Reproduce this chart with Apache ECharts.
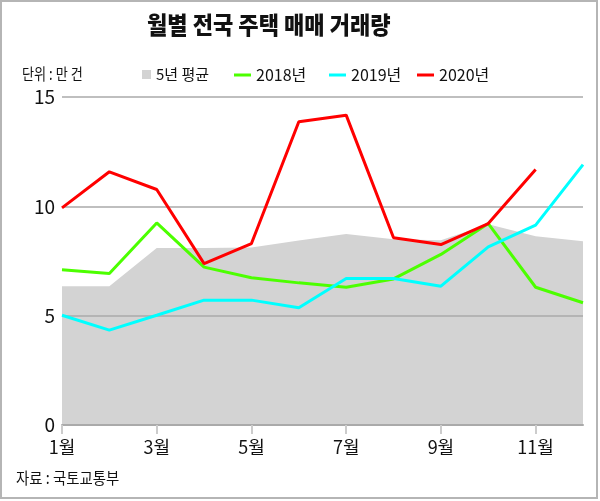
<!DOCTYPE html>
<html>
<head>
<meta charset="utf-8">
<script src="https://cdn.jsdelivr.net/npm/echarts@6/dist/echarts.min.js"></script>
<style>
  html, body { margin: 0; padding: 0; background: #fff; }
  #chart { width: 600px; height: 501px; }
</style>
</head>
<body>
<div id="chart"></div>
<script>
// 데이터 (단위: 만 건)
const months = ['1월', '2월', '3월', '4월', '5월', '6월', '7월', '8월', '9월', '10월', '11월', '12월']
const avg5 = [6.35, 6.35, 8.1, 8.1, 8.12, 8.44, 8.74, 8.5, 8.45, 9.18, 8.63, 8.4]
const y2018 = [7.1, 6.93, 9.24, 7.22, 6.73, 6.5, 6.3, 6.68, 7.8, 9.21, 6.3, 5.59]
const y2019 = [5.02, 4.34, 5.02, 5.71, 5.71, 5.36, 6.7, 6.7, 6.35, 8.15, 9.14, 11.91]
const y2020 = [9.93, 11.58, 10.77, 7.38, 8.3, 13.87, 14.17, 8.56, 8.25, 9.21, 11.68, null]

const font = "'Liberation Sans Narrow', 'Noto Sans CJK KR', sans-serif"
const lineColors = { '2018년': '#4cff00', '2019년': '#00ffff', '2020년': '#ff0000' }

const chart = echarts.init(document.getElementById('chart'))

function lineLegend(name, left) {
  return {
    data: [name],
    left: left,
    top: 67,
    padding: 0,
    icon: 'rect',
    itemWidth: 17,
    itemHeight: 3,
    textStyle: { fontFamily: font, fontSize: 16, color: '#111' },
    selectedMode: false
  }
}

function lineSeries(name, data) {
  return {
    name: name,
    type: 'line',
    data: data,
    z: 5,
    symbol: 'none',
    color: lineColors[name],
    lineStyle: { width: 3, color: lineColors[name] }
  }
}

const option = {
  animation: false,
  textStyle: { fontFamily: font },
  graphic: [
    {
      type: 'rect',
      shape: { x: 1, y: 1, width: 596, height: 497 },
      style: { fill: 'none', stroke: '#b5b5b5', lineWidth: 2 }
    },
    {
      type: 'text',
      x: 147,
      y: 13,
      scaleX: 0.92,
      style: { text: '월별 전국 주택 매매 거래량', font: '900 24px "Noto Sans CJK KR", sans-serif', fill: '#111' }
    },
    {
      type: 'text',
      x: 22,
      y: 66,
      scaleX: 0.82,
      style: { text: '단위 : 만 건', font: '16px ' + font, fill: '#111' }
    },
    {
      type: 'text',
      x: 16,
      y: 470,
      scaleX: 0.9,
      style: { text: '자료 : 국토교통부', font: '16px ' + font, fill: '#111' }
    }
  ],
  legend: [
    {
      data: ['5년 평균'],
      left: 142,
      top: 67,
      padding: 0,
      icon: 'rect',
      itemWidth: 9,
      itemHeight: 9,
      textStyle: { fontFamily: font, fontSize: 15, color: '#111' },
      selectedMode: false
    },
    lineLegend('2018년', 234),
    lineLegend('2019년', 329),
    lineLegend('2020년', 417)
  ],
  grid: { left: 62, right: 17, top: 97, bottom: 76 },
  xAxis: {
    type: 'category',
    data: months,
    boundaryGap: false,
    z: 3,
    axisLine: { lineStyle: { color: '#aaa', width: 2 } },
    axisTick: { interval: 1, length: 9, lineStyle: { color: '#ccc', width: 2 } },
    axisLabel: { interval: 1, margin: 13, fontSize: 18, color: '#111' },
    splitLine: { show: false }
  },
  yAxis: {
    type: 'value',
    min: 0,
    max: 15,
    interval: 5,
    z: 3,
    axisLine: { show: false },
    axisTick: { show: false },
    axisLabel: { margin: 7, fontSize: 19, color: '#111' },
    splitLine: { lineStyle: { color: '#aaa', width: 1.5 } }
  },
  series: [
    {
      name: '5년 평균',
      type: 'line',
      data: avg5,
      z: 1,
      symbol: 'none',
      color: '#d3d3d3',
      lineStyle: { width: 0 },
      areaStyle: { color: '#d3d3d3', opacity: 1 }
    },
    lineSeries('2018년', y2018),
    lineSeries('2019년', y2019),
    lineSeries('2020년', y2020)
  ]
}

chart.setOption(option)
</script>
</body>
</html>
